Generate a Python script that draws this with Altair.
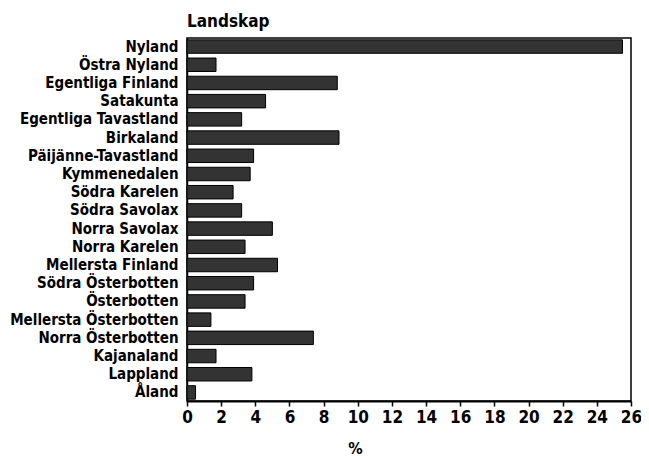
import altair as alt
import pandas as pd

regions = ["Nyland", "Östra Nyland", "Egentliga Finland", "Satakunta",
           "Egentliga Tavastland", "Birkaland", "Päijänne-Tavastland",
           "Kymmenedalen", "Södra Karelen", "Södra Savolax", "Norra Savolax",
           "Norra Karelen", "Mellersta Finland", "Södra Österbotten",
           "Österbotten", "Mellersta Österbotten", "Norra Österbotten",
           "Kajanaland", "Lappland", "Åland"]
values = [25.5, 1.7, 8.8, 4.6, 3.2, 8.9, 3.9, 3.7, 2.7, 3.2, 5.0, 3.4,
          5.3, 3.9, 3.4, 1.4, 7.4, 1.7, 3.8, 0.5]
x_ticks = list(range(0, 27, 2))

df = pd.DataFrame({"Landskap": regions, "Procent": values})

FONT = "DejaVu Sans Condensed"

chart = alt.Chart(df).mark_bar(
    color="#333333", stroke="#000000", strokeWidth=1
).encode(
    y=alt.Y("Landskap:N", sort=regions, title=None,
            scale=alt.Scale(paddingInner=0.26, paddingOuter=0.1),
            axis=alt.Axis(labelFont=FONT, labelFontWeight="bold", labelFontSize=15,
                          labelColor="#000", ticks=False, labelPadding=9,
                          domainColor="#000", domainWidth=1.5, labelLimit=300)),
    x=alt.X("Procent:Q", title="%",
            scale=alt.Scale(domain=[0, 26], nice=False),
            axis=alt.Axis(values=x_ticks, grid=False, labelFont=FONT,
                          labelFontWeight="bold", labelFontSize=17, labelColor="#000",
                          labelFlush=False, labelOverlap=False,
                          tickColor="#000", tickSize=5, tickWidth=1.5,
                          domainColor="#000", domainWidth=2, labelPadding=3,
                          titleFont=FONT, titleFontWeight="bold", titleFontSize=16,
                          titleColor="#000", titleX=168, titleY=52,
                          titleAlign="center", titleBaseline="alphabetic")),
).properties(
    width=444, height=363,
    title=alt.TitleParams("Landskap", font=FONT, fontWeight="bold", fontSize=17,
                          color="#000", anchor="start", frame="group", offset=7),
    autosize=alt.AutoSizeParams(type="none"),
    padding={"left": 179, "top": 30, "right": 10, "bottom": 55},
).configure_view(
    stroke="#000", strokeWidth=1.5
)

chart.save("out.html", embed_options={"renderer": "svg", "actions": False})
